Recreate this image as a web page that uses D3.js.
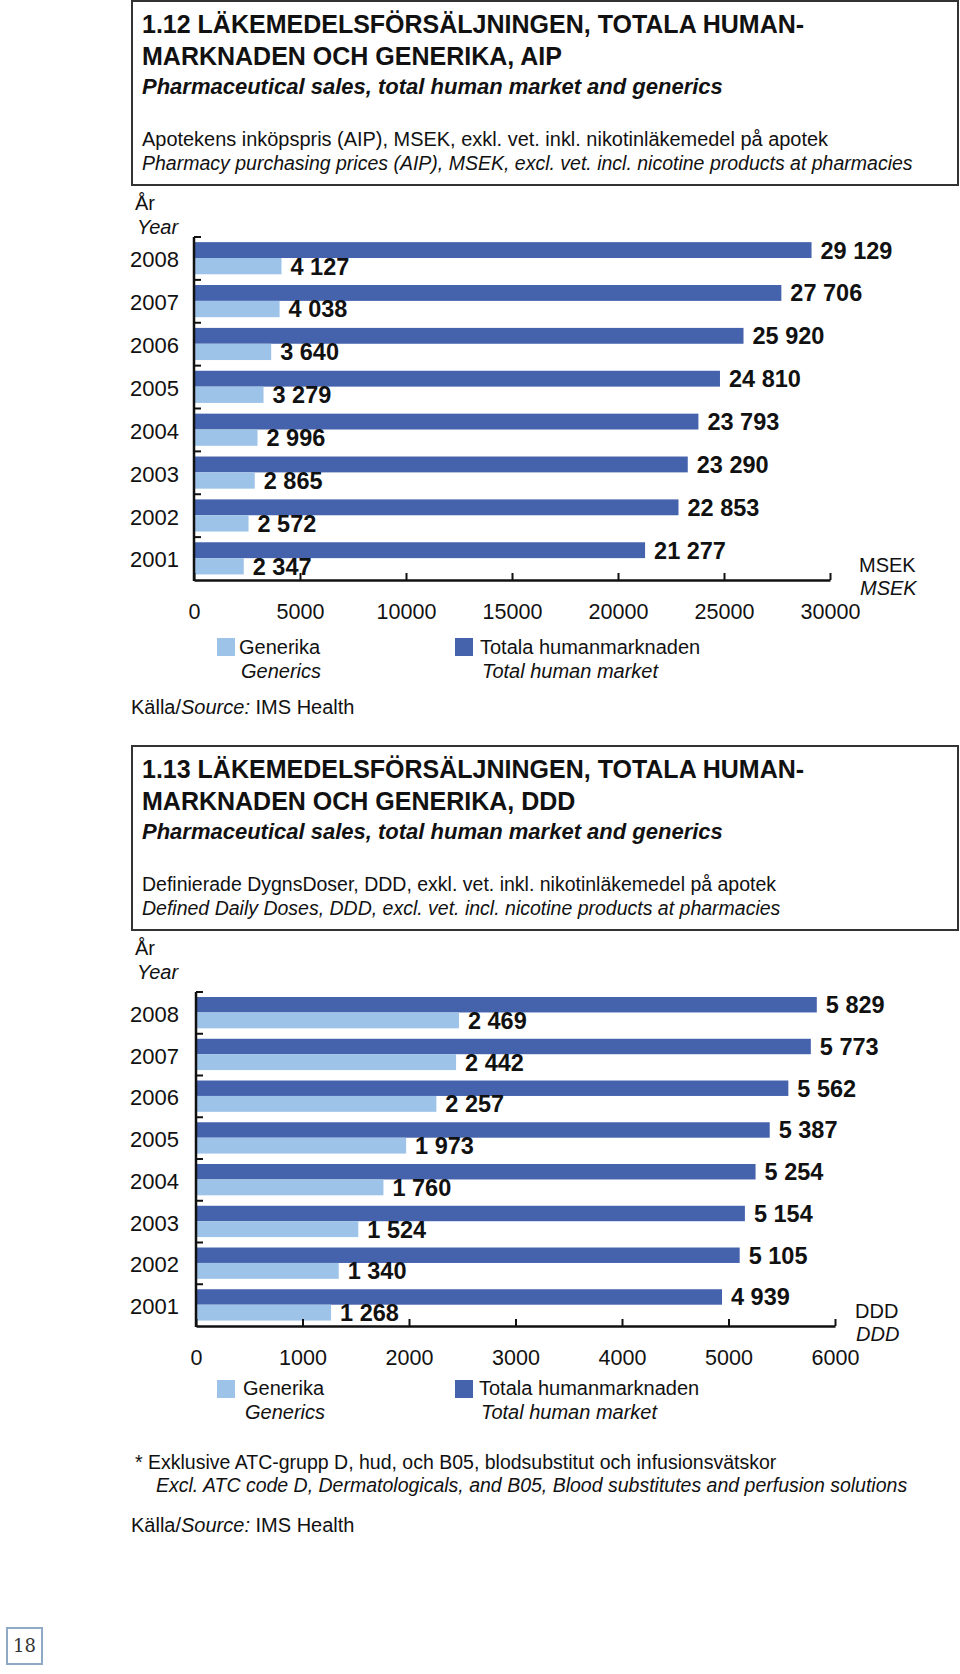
<!DOCTYPE html>
<html><head><meta charset="utf-8">
<script src="https://cdn.jsdelivr.net/npm/d3@7"></script>
<style>
body{margin:0;background:#fff}
svg{display:block}
text{font-family:'Liberation Sans',Arial,sans-serif;fill:#111}
</style>
</head><body>
<svg id="c" width="960" height="1674"></svg>
<script>
// ---- data ----
const years = ["2008","2007","2006","2005","2004","2003","2002","2001"];
const aipTotal = [29129,27706,25920,24810,23793,23290,22853,21277];
const aipGenerics = [4127,4038,3640,3279,2996,2865,2572,2347];
const dddTotal = [5829,5773,5562,5387,5254,5154,5105,4939];
const dddGenerics = [2469,2442,2257,1973,1760,1524,1340,1268];
const aipTicks = [0,5000,10000,15000,20000,25000,30000];
const dddTicks = [0,1000,2000,3000,4000,5000,6000];
const seriesNames = ["Generika","Totala humanmarknaden"];
const seriesNamesEn = ["Generics","Total human market"];

const DARK = "#4562ad", LIGHT = "#9ec3e8";
const svg = d3.select("#c");
const loc = d3.formatLocale({decimal:",", thousands:" ", grouping:[3], currency:["",""]});
const fmt = loc.format(",d");

function txt(g, x, y, s, o = {}) {
  const t = g.append("text").attr("x", x).attr("y", y).attr("dy", "0.36em")
    .attr("font-size", o.size || 20)
    .attr("font-weight", o.bold ? "bold" : "normal")
    .attr("font-style", o.italic ? "italic" : "normal")
    .attr("text-anchor", o.anchor || "start")
    .text(s);
  if (o.len) {
    const l = t.node().getComputedTextLength();
    if (Math.abs(l - o.len) / o.len > 0.02) t.attr("textLength", o.len).attr("lengthAdjust", "spacingAndGlyphs");
  }
  return t;
}

function chart(cfg) {
  const g = svg.append("g");
  // header box
  g.append("rect").attr("x", 132).attr("y", cfg.boxTop).attr("width", 826)
    .attr("height", cfg.boxBottom - cfg.boxTop).attr("fill", "none")
    .attr("stroke", "#333").attr("stroke-width", 2);
  const hx = 142, bt = cfg.boxTop;
  txt(g, hx, bt + 22.5, cfg.title1, {bold: true, size: 25, len: 666});
  txt(g, hx, bt + 54.5, cfg.title2, {bold: true, size: 25, len: cfg.t2len});
  txt(g, hx, bt + 85.5, "Pharmaceutical sales, total human market and generics", {bold: true, italic: true, size: 22, len: 586});
  txt(g, hx, bt + 138, cfg.desc1, {size: 19.5, len: cfg.d1len});
  txt(g, hx, bt + 161.5, cfg.desc2, {size: 19.5, italic: true, len: cfg.d2len});

  // År / Year
  txt(g, 135, cfg.boxBottom + 18, "År", {size: 20});
  txt(g, 137, cfg.boxBottom + 42, "Year", {size: 20, italic: true});

  const x = d3.scaleLinear().domain([0, cfg.ticks[cfg.ticks.length - 1]]).range([cfg.x0, cfg.x1]);
  const y = d3.scaleBand().domain(years).range([cfg.plotTop, cfg.plotBottom]).padding(0);
  const bw = y.bandwidth();

  const rows = years.map((yr, i) => ({yr, tot: cfg.total[i], gen: cfg.gen[i]}));

  // bars
  g.append("g").selectAll("rect").data(rows).join("rect")
    .attr("x", x(0)).attr("y", d => y(d.yr) + 0.12 * bw)
    .attr("width", d => x(d.tot) - x(0)).attr("height", 0.37 * bw).attr("fill", DARK);
  g.append("g").selectAll("rect").data(rows).join("rect")
    .attr("x", x(0)).attr("y", d => y(d.yr) + 0.49 * bw)
    .attr("width", d => x(d.gen) - x(0)).attr("height", 0.38 * bw).attr("fill", LIGHT);

  // value labels
  g.append("g").selectAll("text").data(rows).join("text")
    .attr("x", d => x(d.tot) + 9).attr("y", d => y(d.yr) + 0.305 * bw).attr("dy", "0.36em")
    .attr("font-size", 23.5).attr("font-weight", "bold").text(d => fmt(d.tot));
  g.append("g").selectAll("text").data(rows).join("text")
    .attr("x", d => x(d.gen) + 9).attr("y", d => y(d.yr) + 0.68 * bw).attr("dy", "0.36em")
    .attr("font-size", 23.5).attr("font-weight", "bold").text(d => fmt(d.gen));

  // x axis
  const xa = g.append("g").attr("transform", `translate(0,${cfg.plotBottom})`)
    .call(d3.axisBottom(x).tickValues(cfg.ticks).tickFormat(d3.format("d"))
      .tickSizeInner(-7).tickSizeOuter(0).tickPadding(24));
  xa.select(".domain").attr("stroke", "#111").attr("stroke-width", 2.5);
  xa.selectAll(".tick line").attr("stroke", "#111").attr("stroke-width", 2);
  xa.selectAll(".tick text").attr("font-size", 21.5).attr("fill", "#111")
    .attr("font-family", "'Liberation Sans',Arial,sans-serif");

  // y axis
  const ya = g.append("g");
  ya.append("line").attr("x1", cfg.x0).attr("x2", cfg.x0)
    .attr("y1", cfg.plotTop).attr("y2", cfg.plotBottom + 1)
    .attr("stroke", "#111").attr("stroke-width", 2.5);
  ya.selectAll("line.t").data(years).join("line").attr("class", "t")
    .attr("x1", cfg.x0).attr("x2", cfg.x0 + 7)
    .attr("y1", d => y(d)).attr("y2", d => y(d))
    .attr("stroke", "#111").attr("stroke-width", 2);
  ya.selectAll("text").data(years).join("text")
    .attr("x", 179).attr("y", d => y(d) + bw / 2 + 1).attr("dy", "0.36em")
    .attr("text-anchor", "end").attr("font-size", 22).text(d => d);

  // unit label
  txt(g, cfg.unitX, cfg.plotBottom - 15, cfg.unit, {size: 20});
  txt(g, cfg.unitX + 1, cfg.plotBottom + 8, cfg.unit, {size: 20, italic: true});

  // legend
  const L = cfg.leg;
  [[LIGHT, 217, L.tx1], [DARK, 455, L.tx2]].forEach((s, i) => {
    g.append("rect").attr("x", s[1]).attr("y", L.sy).attr("width", 18).attr("height", 18).attr("fill", s[0]);
    txt(g, s[2], L.y1, seriesNames[i], {size: 20});
    txt(g, s[2] + 2, L.y2, seriesNamesEn[i], {size: 20, italic: true});
  });

  // footnote
  if (cfg.note) {
    txt(g, 135, cfg.note.y1, cfg.note.t1, {size: 19.5, len: 640});
    txt(g, 156, cfg.note.y2, cfg.note.t2, {size: 19.5, italic: true, len: 747});
  }
  // source
  const s = g.append("text").attr("x", 131).attr("y", cfg.srcY).attr("dy", "0.36em").attr("font-size", 20);
  s.append("tspan").text("Källa/");
  s.append("tspan").attr("font-style", "italic").text("Source:");
  s.append("tspan").text(" IMS Health");
}

chart({
  boxTop: 1, boxBottom: 185,
  title1: "1.12 LÄKEMEDELSFÖRSÄLJNINGEN, TOTALA HUMAN-",
  title2: "MARKNADEN OCH GENERIKA, AIP", t2len: 418,
  desc1: "Apotekens inköpspris (AIP), MSEK, exkl. vet. inkl. nikotinläkemedel på apotek", d1len: 686,
  desc2: "Pharmacy purchasing prices (AIP), MSEK, excl. vet. incl. nicotine products at pharmacies", d2len: 761,
  total: aipTotal, gen: aipGenerics, ticks: aipTicks,
  x0: 194, x1: 830, plotTop: 237, plotBottom: 580,
  unit: "MSEK", unitX: 859,
  leg: {sy: 638, y1: 647, y2: 671, tx1: 239, tx2: 480},
  srcY: 707
});

chart({
  boxTop: 746, boxBottom: 930,
  title1: "1.13 LÄKEMEDELSFÖRSÄLJNINGEN, TOTALA HUMAN-",
  title2: "MARKNADEN OCH GENERIKA, DDD", t2len: 430,
  desc1: "Definierade DygnsDoser, DDD, exkl. vet. inkl. nikotinläkemedel på apotek", d1len: 624,
  desc2: "Defined Daily Doses, DDD, excl. vet. incl. nicotine products at pharmacies", d2len: 633,
  total: dddTotal, gen: dddGenerics, ticks: dddTicks,
  x0: 196, x1: 835, plotTop: 992, plotBottom: 1326,
  unit: "DDD", unitX: 855,
  leg: {sy: 1380, y1: 1388, y2: 1412, tx1: 243, tx2: 479},
  note: {y1: 1462, y2: 1485,
    t1: "* Exklusive ATC-grupp D, hud, och B05, blodsubstitut och infusionsvätskor",
    t2: "Excl. ATC code D, Dermatologicals, and B05, Blood substitutes and perfusion solutions"},
  srcY: 1525
});

// page number
svg.append("rect").attr("x", 7).attr("y", 1628).attr("width", 35).attr("height", 36)
  .attr("fill", "none").attr("stroke", "#8eaac4").attr("stroke-width", 2);
svg.append("text").attr("x", 24.5).attr("y", 1646).attr("dy", "0.36em").attr("text-anchor", "middle")
  .attr("font-size", 18).attr("font-family", "'DejaVu Serif',serif").style("font-family", "'DejaVu Serif',serif")
  .attr("fill", "#333").style("fill", "#333").text("18");
</script>
</body></html>
